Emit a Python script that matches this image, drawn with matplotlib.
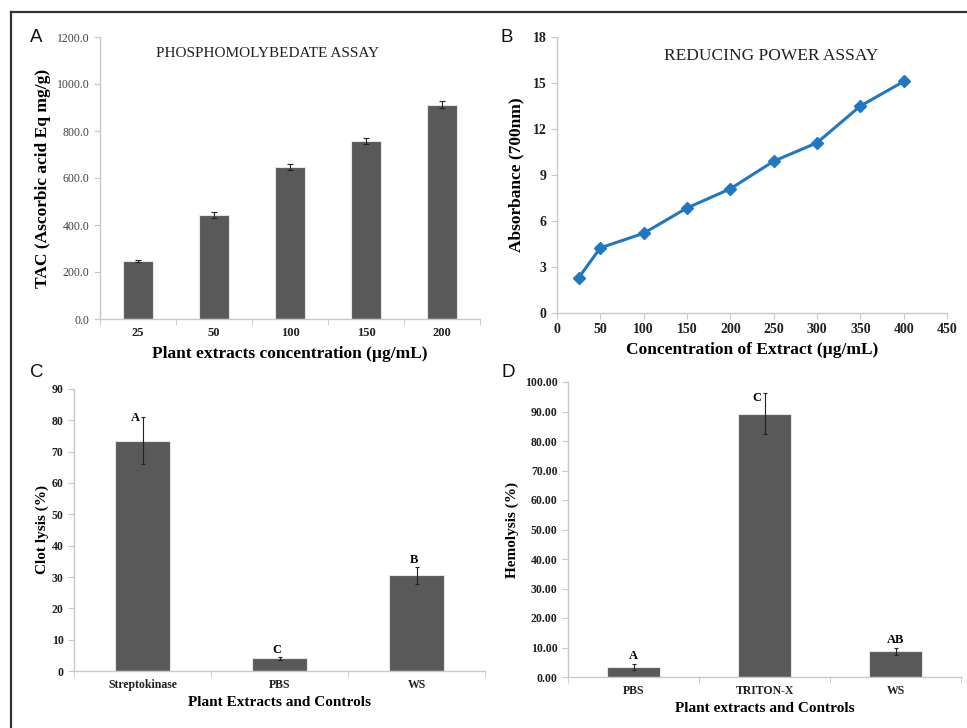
import matplotlib.pyplot as plt
import numpy as np
from matplotlib.lines import Line2D
from matplotlib.ticker import FixedLocator

# Panel A: phosphomolybdate assay
conc_a = ['25', '50', '100', '150', '200']
tac = [247, 443, 646, 757, 912]
tac_err = [5, 12, 12, 12, 15]

# Panel B: reducing power assay
conc_b = [25, 50, 100, 150, 200, 250, 300, 350, 400]
absorb = [2.3, 4.25, 5.2, 6.85, 8.1, 9.9, 11.1, 13.5, 15.1]

# Panel C: clot lysis
cats_c = ['Streptokinase', 'PBS', 'WS']
lysis = [73.5, 4.0, 30.5]
lysis_err = [7.5, 0.5, 2.7]
letters_c = ['A', 'C', 'B']

# Panel D: hemolysis
cats_d = ['PBS', 'TRITON-X', 'WS']
hemo = [3.5, 89.3, 8.7]
hemo_err = [1.0, 7.0, 1.2]
letters_d = ['A', 'C', 'AB']

W, H = 967, 728
SERIF = 'Liberation Serif'
SANS = 'Liberation Sans'
BAR = '#595959'
AXC = '#c8c8c8'

fig = plt.figure(figsize=(W / 100, H / 100), dpi=100)


def add_ax(x0, x1, ytop, ybot):
    ax = fig.add_axes([x0 / W, 1 - ybot / H, (x1 - x0) / W, (ybot - ytop) / H])
    for s in ['top', 'right']:
        ax.spines[s].set_visible(False)
    for s in ['left', 'bottom']:
        ax.spines[s].set_color(AXC)
        ax.spines[s].set_linewidth(1.0)
    ax.tick_params(colors=AXC, direction='out', length=4, width=0.8)
    return ax


def style_ticks(ax, size, xbold=True, ybold=True, ycolor='#202020', ysize=None):
    for t in ax.get_xticklabels():
        t.set_fontfamily(SERIF)
        t.set_fontsize(size)
        t.set_fontweight('bold' if xbold else 'normal')
        t.set_color('#202020')
    for t in ax.get_yticklabels():
        t.set_fontfamily(SERIF)
        t.set_fontsize(ysize or size)
        t.set_fontweight('bold' if ybold else 'normal')
        t.set_color(ycolor)


def cat_axis(ax, labels):
    n = len(labels)
    x = np.arange(n)
    ax.set_xlim(-0.5, n - 0.5)
    ax.set_xticks(x)
    ax.set_xticklabels(labels)
    ax.xaxis.set_minor_locator(FixedLocator(np.arange(n + 1) - 0.5))
    ax.tick_params(axis='x', which='major', length=0, pad=6)
    ax.tick_params(axis='x', which='minor', length=4, color=AXC, direction='out')
    return x


lab = dict(fontfamily=SERIF, fontweight='bold')
err_kw = dict(ecolor='#222222', elinewidth=0.8, capsize=1.5, capthick=0.8)

# ---- A ----
ax = add_ax(100, 480, 37, 319)
x = cat_axis(ax, conc_a)
ax.bar(x, tac, width=0.4, color=BAR, edgecolor='#e6e6e6', linewidth=0.8,
       yerr=tac_err, error_kw=dict(err_kw, capsize=2))
ax.set_ylim(0, 1200)
ax.set_yticks(np.arange(0, 1201, 200))
ax.set_yticklabels([f'{v:.1f}' for v in np.arange(0, 1201, 200)])
style_ticks(ax, 9, ybold=False, ycolor='#404040', ysize=8.5)
ax.set_xlabel('Plant extracts concentration (µg/mL)', fontsize=12.5, labelpad=5, **lab)
ax.set_ylabel('TAC (Ascorbic acid Eq mg/g)', fontsize=12.5, labelpad=4, **lab)
ax.text(0.44, 0.94, 'PHOSPHOMOLYBEDATE ASSAY', transform=ax.transAxes, ha='center',
        va='center', fontfamily=SERIF, fontsize=11, color='#202020')

# ---- B ----
ax = add_ax(557, 947, 37, 313)
ax.plot(conc_b, absorb, color='#1f78c1', lw=2.2, marker='D', ms=6.5,
        mfc='#1f78c1', mec='#1f78c1')
ax.set_xlim(0, 450)
ax.set_ylim(0, 18)
ax.set_xticks(np.arange(0, 451, 50))
ax.set_yticks(np.arange(0, 19, 3))
style_ticks(ax, 10)
ax.set_xlabel('Concentration of Extract (µg/mL)', fontsize=12.5, labelpad=4, **lab)
ax.set_ylabel('Absorbance (700nm)', fontsize=12.5, labelpad=6, **lab)
ax.text(0.55, 0.93, 'REDUCING POWER ASSAY', transform=ax.transAxes, ha='center',
        va='center', fontfamily=SERIF, fontsize=12.5, color='#202020')

# ---- C ----
ax = add_ax(74, 485, 389, 671)
x = cat_axis(ax, cats_c)
ax.bar(x, lysis, width=0.4, color=BAR, edgecolor='#e6e6e6', linewidth=0.8,
       yerr=lysis_err, error_kw=err_kw)
ax.set_ylim(0, 90)
ax.set_yticks(np.arange(0, 91, 10))
style_ticks(ax, 8.5)
for i, (v, e, l) in enumerate(zip(lysis, lysis_err, letters_c)):
    if l == 'A':
        ax.text(i - 0.05, v + e - 0.3, l, ha='center', va='center', fontsize=9, **lab)
    else:
        ax.text(i - 0.02, v + e + 2.3, l, ha='center', va='center', fontsize=9, **lab)
ax.set_xlabel('Plant Extracts and Controls', fontsize=11, labelpad=3, **lab)
ax.set_ylabel('Clot lysis (%)', fontsize=11, labelpad=2, **lab)

# ---- D ----
ax = add_ax(568, 961, 382, 677)
x = cat_axis(ax, cats_d)
ax.bar(x, hemo, width=0.4, color=BAR, edgecolor='#e6e6e6', linewidth=0.8,
       yerr=hemo_err, error_kw=err_kw)
ax.set_ylim(0, 100)
ax.set_yticks(np.arange(0, 101, 10))
ax.set_yticklabels([f'{v:.2f}' for v in np.arange(0, 101, 10)])
style_ticks(ax, 8.5)
for i, (v, e, l) in enumerate(zip(hemo, hemo_err, letters_d)):
    if l == 'C':
        ax.text(i - 0.06, v + e - 1.7, l, ha='center', va='center', fontsize=9, **lab)
    else:
        ax.text(i, v + e + 2.6, l, ha='center', va='center', fontsize=9, **lab)
ax.set_xlabel('Plant extracts and Controls', fontsize=11, labelpad=3, **lab)
ax.set_ylabel('Hemolysis (%)', fontsize=11, labelpad=4, **lab)

# panel letters
for lt, px, py in [('A', 36, 38), ('B', 507, 38), ('C', 37, 373), ('D', 508, 373)]:
    fig.text(px / W, 1 - py / H, lt, fontfamily=SANS, fontsize=13.5,
             ha='center', va='center', color='#111111')

# outer frame (top and left edges)
fig.add_artist(Line2D([11 / W, 1], [1 - 12 / H, 1 - 12 / H], color='#333333', lw=1.6))
fig.add_artist(Line2D([11 / W, 11 / W], [0, 1 - 12 / H], color='#333333', lw=1.6))

fig.savefig('out.png', dpi=100)
